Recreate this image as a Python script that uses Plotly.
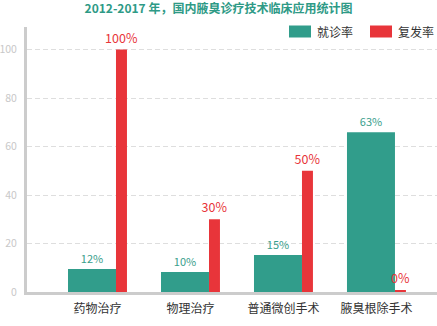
import plotly.graph_objects as go

categories = ["药物治疗", "物理治疗", "普通微创手术", "腋臭根除手术"]
visit_rate = [9.5, 8.2, 15.3, 65.9]
visit_labels = ["12%", "10%", "15%", "63%"]
relapse_rate = [100, 30, 50, 0.6]
relapse_labels = ["100%", "30%", "50%", "0%"]
y_ticks = [0, 20, 40, 60, 80, 100]
series_names = ["就诊率", "复发率"]

TEAL = "#319d8b"
RED = "#e8353a"
FONT = "Noto Sans CJK SC"

W, H = 437, 326
ML, MR, MT, MB = 27, 0, 27, 34
PW, PH = W - ML - MR, H - MT - MB


def px(x):
    return (x - ML) / PW


def py(y):
    return (H - MB - y) / PH


fig = go.Figure()
fig.add_trace(go.Bar(
    x=categories, y=visit_rate, name=series_names[0],
    marker=dict(color=TEAL, line=dict(width=0)),
    width=0.516, offset=-0.317,
    text=visit_labels, textposition="outside", constraintext="none",
    textfont=dict(color="#3a9e8c", size=11, family=FONT),
    cliponaxis=False, showlegend=False,
))
fig.add_trace(go.Bar(
    x=categories, y=relapse_rate, name=series_names[1],
    marker=dict(color=RED, line=dict(width=0)),
    width=0.118, offset=0.199,
    text=relapse_labels, textposition="outside", constraintext="none",
    textfont=dict(color=RED, size=12.5, family=FONT),
    cliponaxis=False, showlegend=False,
))

# manual legend
shapes = []
annotations = []
for (x0, color, name) in [(289, TEAL, series_names[0]), (370, RED, series_names[1])]:
    shapes.append(dict(type="rect", xref="paper", yref="paper",
                       x0=px(x0), x1=px(x0 + 22), y0=py(37.5), y1=py(25.5),
                       fillcolor=color, line=dict(width=0), layer="above"))
    annotations.append(dict(xref="paper", yref="paper", x=px(x0 + 26), y=py(31.5),
                            text=name, showarrow=False, xanchor="left", yanchor="middle",
                            font=dict(size=12, color="#333", family=FONT)))

fig.update_layout(
    width=W, height=H,
    margin=dict(l=ML, r=MR, t=MT, b=MB, pad=0, autoexpand=False),
    paper_bgcolor="white", plot_bgcolor="white",
    barmode="overlay",
    title=dict(text="<b>2012-2017 年，国内腋臭诊疗技术临床应用统计图</b>",
               x=0.5, xref="container", xanchor="center",
               y=1 - 9 / H, yref="container", yanchor="middle",
               font=dict(size=12, color="#2e9a86", family=FONT)),
    font=dict(family=FONT),
    shapes=shapes, annotations=annotations,
    xaxis=dict(range=[-0.758, 3.651], showgrid=False, zeroline=False,
               showline=True, linecolor="#cccccc", linewidth=3,
               ticks="", tickfont=dict(size=12, color="#333", family=FONT),
               ticklabelstandoff=4, layer="below traces", fixedrange=True,
               automargin=False),
    yaxis=dict(range=[0, 109.3], tickvals=y_ticks, showgrid=True,
               gridcolor="#dedede", griddash="5px,3px", gridwidth=1,
               zeroline=False, showline=True, linecolor="#cccccc", linewidth=3,
               ticks="", tickfont=dict(size=10.5, color="#c8c8c8", family=FONT),
               ticklabelstandoff=5, layer="below traces", fixedrange=True,
               automargin=False),
)

fig.write_html("out.html")
